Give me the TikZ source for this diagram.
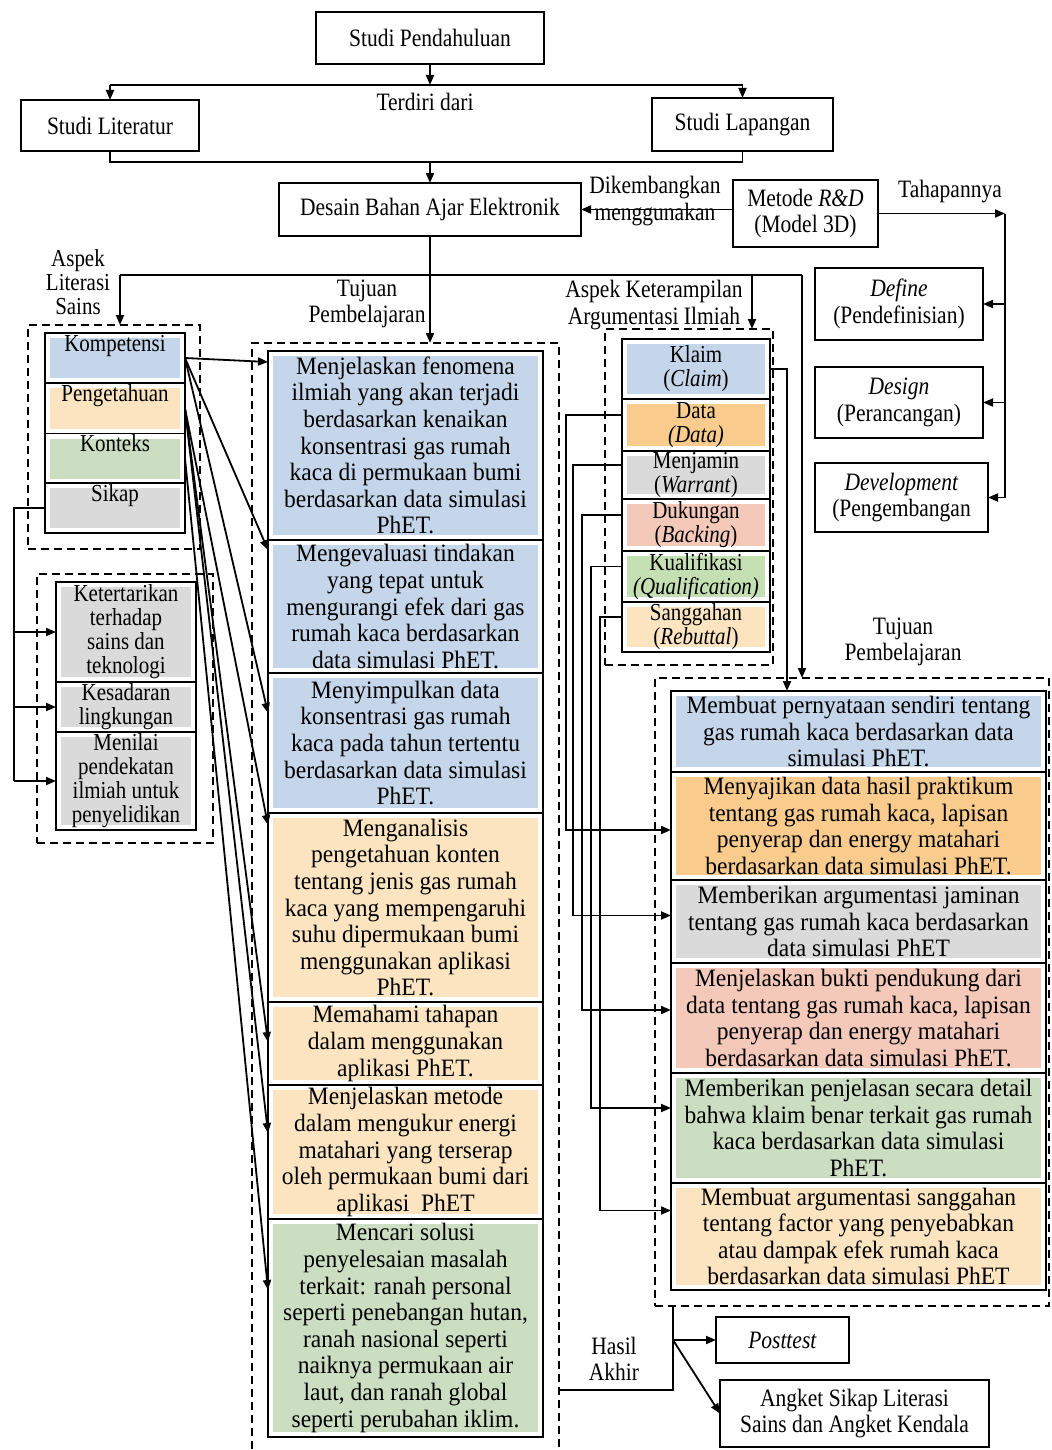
\documentclass[tikz,border=0pt]{standalone}
\usepackage{fontspec}
\setmainfont{Liberation Serif}[FakeStretch=0.94]
\newfontfamily\narrowfont{Liberation Serif}[FakeStretch=0.86]
\usetikzlibrary{arrows.meta}
\definecolor{cblue}{RGB}{197,213,234}
\definecolor{cpeach}{RGB}{252,228,192}
\definecolor{cgreen}{RGB}{203,222,193}
\definecolor{cgreenb}{RGB}{196,224,178}
\definecolor{cgray}{RGB}{218,218,218}
\definecolor{corange}{RGB}{249,204,142}
\definecolor{cpink}{RGB}{244,201,186}
\newcommand\mybox[6]{\node[#5, minimum width={(#3-#1)*0.5pt}, minimum height={(#4-#2)*0.5pt}] (#6) at ({(#1+#3)/2},{(#2+#4)/2})}
\begin{document}
\begin{tikzpicture}[x=0.5pt,y=-0.5pt,
  font=\fontsize{12.5}{13.3}\selectfont,
  box/.style={draw, line width=0.8pt, inner sep=0pt, outer sep=0pt, align=center, fill=white},
  nbox/.style={box, font=\narrowfont\fontsize{12.5}{13.3}\selectfont},
  grp/.style={draw, line width=0.8pt, dash pattern=on 4pt off 2.5pt, inner sep=0pt, outer sep=0pt},
  infill/.style={path picture={\fill[#1] ([shift={(2.5pt,-2.5pt)}]path picture bounding box.north west) rectangle ([shift={(-2.5pt,2.5pt)}]path picture bounding box.south east);}},
  topal/.style={text height=9pt, text depth=16pt},
  smallt/.style={font=\narrowfont\fontsize{12.2}{12}\selectfont},
  lbl/.style={inner sep=0pt, align=center, font=\narrowfont\fontsize{12.5}{13.3}\selectfont},
  arr/.style={-{Triangle[length=5pt,width=4pt]}, line width=0.9pt},
  ln/.style={line width=0.9pt}]
\useasboundingbox (0,0) rectangle (1051,1450);

% dashed groups
\mybox{28}{325}{200}{549}{grp}{g1}{};
\mybox{37}{574}{213}{843}{grp}{g2}{};
\mybox{252}{343}{559}{1465}{grp}{g3}{};
\mybox{605}{329}{773}{665}{grp}{g4}{};
\mybox{655}{678}{1049}{1306}{grp}{g5}{};

% top boxes
\mybox{316}{12}{544}{64}{nbox}{sp}{Studi Pendahuluan};
\mybox{21}{100}{199}{151}{nbox}{sl}{Studi Literatur};
\mybox{652}{98}{833}{151}{nbox}{slap}{Studi Lapangan};
\mybox{279}{183}{581}{236}{nbox}{des}{Desain Bahan Ajar Elektronik};
\mybox{733}{180}{878}{247}{nbox}{met}{Metode \textit{R\&D}\\(Model 3D)};
\mybox{815}{268}{983}{340}{nbox}{def}{\textit{Define}\\(Pendefinisian)};
\mybox{815}{367}{983}{438}{nbox}{dsg}{\textit{Design}\\(Perancangan)};
\mybox{815}{463}{988}{532}{nbox}{dev}{\textit{Development}\\(Pengembangan};

% labels
\node[lbl] (lterdiri) at (425,102) {Terdiri dari};
\node[lbl] (ldik) at (655,188) {Dikembangkan};
\node[lbl] (lmeng) at (655,215) {menggunakan};
\node[lbl] (ltahap) at (950,192) {Tahapannya};
\node[lbl,smallt] (lasp) at (78,282) {Aspek\\Literasi\\Sains};
\node[lbl] (ltuj1) at (367,304) {Tujuan\\Pembelajaran};
\node[lbl] (lket) at (654,305) {Aspek Keterampilan\\Argumentasi Ilmiah};
\node[lbl] (ltuj2) at (903,642) {Tujuan\\Pembelajaran};
\node[lbl] (lhasil) at (614,1359) {Hasil\\Akhir};

% literasi sains aspects
\mybox{45}{333}{185}{383}{box,infill=cblue,topal,smallt}{komp}{Kompetensi};
\mybox{45}{383}{185}{434}{box,infill=cpeach,topal,smallt}{peng}{Pengetahuan};
\mybox{45}{434}{185}{483}{box,infill=cgreen,topal,smallt}{kont}{Konteks};
\mybox{45}{483}{185}{533}{box,infill=cgray,topal,smallt}{sikap}{Sikap};

\mybox{56}{582}{196}{682}{box,infill=cgray,smallt}{ket}{Ketertarikan\\terhadap\\sains dan\\teknologi};
\mybox{56}{682}{196}{732}{box,infill=cgray,smallt}{kes}{Kesadaran\\lingkungan};
\mybox{56}{732}{196}{830}{box,infill=cgray,smallt}{men}{Menilai\\pendekatan\\ilmiah untuk\\penyelidikan};

% middle objectives
\mybox{268}{351}{543}{540}{box,infill=cblue}{m1}{Menjelaskan fenomena\\ilmiah yang akan terjadi\\berdasarkan kenaikan\\konsentrasi gas rumah\\kaca di permukaan bumi\\berdasarkan data simulasi\\PhET.};
\mybox{268}{540}{543}{673}{box,infill=cblue}{m2}{Mengevaluasi tindakan\\yang tepat untuk\\mengurangi efek dari gas\\rumah kaca berdasarkan\\data simulasi PhET.};
\mybox{268}{673}{543}{813}{box,infill=cblue}{m3}{Menyimpulkan data\\konsentrasi gas rumah\\kaca pada tahun tertentu\\berdasarkan data simulasi\\PhET.};
\mybox{268}{813}{543}{1002}{box,infill=cpeach}{m4}{Menganalisis\\pengetahuan konten\\tentang jenis gas rumah\\kaca yang mempengaruhi\\suhu dipermukaan bumi\\menggunakan aplikasi\\PhET.};
\mybox{268}{1002}{543}{1085}{box,infill=cpeach}{m5}{Memahami tahapan\\dalam menggunakan\\aplikasi PhET.};
\mybox{268}{1085}{543}{1219}{box,infill=cpeach}{m6}{Menjelaskan metode\\dalam mengukur energi\\matahari yang terserap\\oleh permukaan bumi dari\\aplikasi~ PhET};
\mybox{268}{1219}{543}{1437}{box,infill=cgreen}{m7}{Mencari solusi\\penyelesaian masalah\\terkait: ranah personal\\seperti penebangan hutan,\\ranah nasional seperti\\naiknya permukaan air\\laut, dan ranah global\\seperti perubahan iklim.};

% argumentation aspects
\mybox{622}{339}{770}{399}{box,infill=cblue,smallt}{klaim}{Klaim\\(\textit{Claim})};
\mybox{622}{399}{770}{451}{box,infill=corange,smallt}{data}{Data\\\textit{(Data)}};
\mybox{622}{451}{770}{499}{box,infill=cgray,smallt}{menj}{Menjamin\\(\textit{Warrant})};
\mybox{622}{499}{770}{551}{box,infill=cpink,smallt}{duk}{Dukungan\\(\textit{Backing})};
\mybox{622}{551}{770}{602}{box,infill=cgreenb,smallt}{kual}{Kualifikasi\\\textit{(Qualification)}};
\mybox{622}{602}{770}{652}{box,infill=cpeach,smallt}{sang}{Sanggahan\\(\textit{Rebuttal})};

% right objectives
\mybox{671}{691}{1046}{772}{box,infill=cblue}{r1}{Membuat pernyataan sendiri tentang\\gas rumah kaca berdasarkan data\\simulasi PhET.};
\mybox{671}{772}{1046}{880}{box,infill=corange}{r2}{Menyajikan data hasil praktikum\\tentang gas rumah kaca, lapisan\\penyerap dan energy matahari\\berdasarkan data simulasi PhET.};
\mybox{671}{880}{1046}{963}{box,infill=cgray}{r3}{Memberikan argumentasi jaminan\\tentang gas rumah kaca berdasarkan\\data simulasi PhET};
\mybox{671}{963}{1046}{1073}{box,infill=cpink}{r4}{Menjelaskan bukti pendukung dari\\data tentang gas rumah kaca, lapisan\\penyerap dan energy matahari\\berdasarkan data simulasi PhET.};
\mybox{671}{1073}{1046}{1183}{box,infill=cgreen}{r5}{Memberikan penjelasan secara detail\\bahwa klaim benar terkait gas rumah\\kaca berdasarkan data simulasi\\PhET.};
\mybox{671}{1183}{1046}{1290}{box,infill=cpeach}{r6}{Membuat argumentasi sanggahan\\tentang factor yang penyebabkan\\atau dampak efek rumah kaca\\berdasarkan data simulasi PhET};

% results
\mybox{716}{1317}{849}{1363}{nbox}{post}{\textit{Posttest}};
\mybox{720}{1380}{989}{1447}{nbox}{ang}{Angket Sikap Literasi\\Sains dan Angket Kendala};

% coordinates
\coordinate (j1) at (430,85);
\coordinate (j2) at (430,162);
\coordinate (bus) at (430,275);
\coordinate (busL) at (120,275);
\coordinate (busA) at (752,275);
\coordinate (busR) at (802,275);
\coordinate (hb) at (673,1390);

% connectors: top
\draw[arr] (sp) -- (j1);
\draw[ln] (sl.north |- j1) -- (slap.north |- j1);
\draw[arr] (sl.north |- j1) -- (sl.north);
\draw[arr] (slap.north |- j1) -- (slap.north);
\draw[ln] (sl.south) |- (j2) -| (slap.south);
\draw[arr] (j2) -- (des.north);
\draw[arr] (met.west |- des.east) -- (des.east);
\draw[arr] (met.east) -- ++(127,0) coordinate (t1);
\draw[ln] (t1) -- (t1 |- dev.east);
\draw[arr] (t1 |- def.east) -- (def.east);
\draw[arr] (t1 |- dsg.east) -- (dsg.east);
\draw[arr] (t1 |- dev.east) -- (dev.east);

% bus
\draw[ln] (des.south) -- (bus);
\draw[ln] (busL) -- (busR);
\draw[arr] (busL) -- (busL |- g1.north);
\draw[arr] (bus) -- (bus |- g3.north);
\draw[arr] (busA) -- (busA |- g4.north);
\draw[arr] (busR) -- (busR |- g5.north);

% sikap
\draw[ln] (sikap.west) -- ++(-31,0) coordinate (s1) -- (s1 |- men.west);
\draw[arr] (s1 |- ket.west) -- (ket.west);
\draw[arr] (s1 |- kes.west) -- (kes.west);
\draw[arr] (s1 |- men.west) -- (men.west);

% fan
\draw[arr] (komp.east) -- ([yshift=-5.5pt]m1.north west);
\draw[arr] (komp.east) -- ([yshift=-5pt]m2.north west);
\draw[arr] (komp.east) -- ([yshift=-20pt]m3.north west);
\draw[arr] (peng.east) -- ([yshift=-6pt]m4.north west);
\draw[arr] (peng.east) -- ([yshift=-20pt]m5.north west);
\draw[arr] (peng.east) -- ([yshift=-24pt]m6.north west);
\draw[arr] (kont.east) -- ([yshift=-35.5pt]m7.north west);

% argumentation links
\draw[arr] (klaim.east) -| ([xshift=58pt]r1.north west);
\draw[arr] ([yshift=5pt]data.west) -- ++(-56,0) |- ([yshift=-2pt]r2.west);
\draw[arr] ([yshift=5pt]menj.west) -- ++(-49,0) |- ([yshift=3pt]r3.west);
\draw[arr] ([yshift=5pt]duk.west) -- ++(-40,0) |- ([yshift=4pt]r4.west);
\draw[arr] ([yshift=5pt]kual.west) -- ++(-31,0) |- ([yshift=10pt]r5.west);
\draw[arr] ([yshift=5pt]sang.west) -- ++(-22,0) |- ([yshift=13pt]r6.west);

% results
\draw[ln] (g3.east |- hb) -- (hb) -- (hb |- g5.south);
\coordinate (hj) at (hb |- post.west);
\draw[arr] (hj) -- (post.west);
\draw[arr] (hj) -- (ang.west);
\end{tikzpicture}
\end{document}
